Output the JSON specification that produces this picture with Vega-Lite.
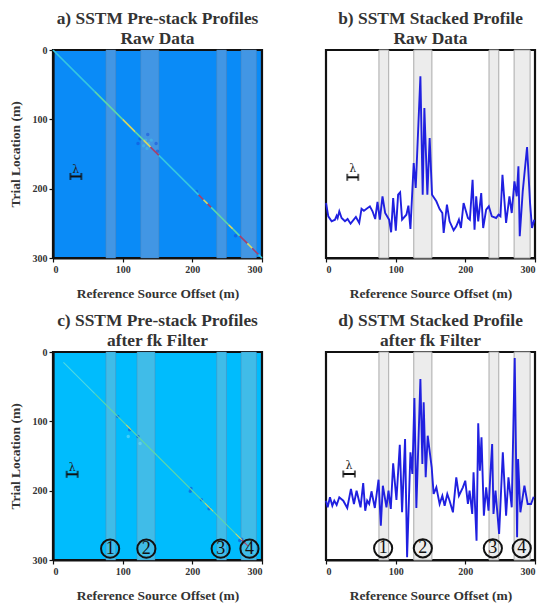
{
"$schema":"https://vega.github.io/schema/vega-lite/v6.json",
"background":"white",
"padding":{"left":6,"top":8,"right":0,"bottom":0},
"bounds":"flush",
"columns":2,
"spacing":{"column":64,"row":94},
"config":{
"font":"Liberation Serif",
"view":{"stroke":"#111","strokeWidth":2.2},
"title":{"font":"Liberation Serif","fontSize":17.4,"fontWeight":"bold","color":"#333","lineHeight":20,"offset":-2,"anchor":"middle"},
"axis":{"labelFont":"Liberation Serif","labelFontSize":10,"labelFontWeight":"bold","labelColor":"#333","titleFont":"Liberation Serif","titleFontSize":13.5,"titleFontWeight":"bold","titleColor":"#333","grid":false,"tickColor":"#111","tickSize":4,"tickWidth":1.2,"domain":true,"domainColor":"#111","domainWidth":2.2,"zindex":1,"labelPadding":2}
},
"datasets":{
"bandsA":[{"from":76,"to":90},{"from":126,"to":152},{"from":235,"to":249},{"from":270,"to":292}],
"bandsC":[{"from":76,"to":90},{"from":120.6,"to":146.4},{"from":235,"to":249},{"from":270,"to":292}],
"bandsB":[{"from":76,"to":90},{"from":126,"to":152},{"from":234,"to":248},{"from":270,"to":293}],
"diagA":[
{"s":0,"e":60,"c":"low"},{"s":60,"e":100,"c":"mid"},{"s":100,"e":118,"c":"hi"},{"s":118,"e":130,"c":"mid"},{"s":130,"e":140,"c":"hi"},{"s":140,"e":152,"c":"peak"},{"s":152,"e":209,"c":"low"},{"s":209,"e":216,"c":"peak"},{"s":216,"e":222,"c":"hi"},{"s":222,"e":227,"c":"peak"},{"s":227,"e":252,"c":"mid"},{"s":252,"e":258,"c":"hi"},{"s":258,"e":268,"c":"mid"},{"s":268,"e":279,"c":"peak"},{"s":279,"e":286,"c":"hi"},{"s":286,"e":295,"c":"peak"},{"s":295,"e":300,"c":"low"}],
"haloA":[{"x":133,"y":130,"c":"halo"},{"x":137,"y":135,"c":"halo"},{"x":130,"y":138,"c":"halo"},{"x":141,"y":130,"c":"halo"},{"x":135,"y":142,"c":"halo"},{"x":122,"y":135,"c":"deep"},{"x":125,"y":128,"c":"deep"},{"x":136,"y":122,"c":"deep"},{"x":148,"y":135,"c":"deep"},{"x":150,"y":146,"c":"deep"},{"x":206,"y":204,"c":"deep"},{"x":262,"y":268,"c":"deep"}],
"diagC":[
{"s":15,"e":60,"c":"faint"},{"s":60,"e":105,"c":"mid"},{"s":105,"e":112,"c":"hi"},{"s":112,"e":150,"c":"mid"},{"s":150,"e":218,"c":"mid"},{"s":218,"e":230,"c":"hi"},{"s":230,"e":262,"c":"mid"},{"s":262,"e":271,"c":"hi"},{"s":271,"e":280,"c":"peak"},{"s":280,"e":290,"c":"faint"}],
"haloC":[{"x":93,"y":93,"c":"deep"},{"x":110,"y":112,"c":"deep"},{"x":122,"y":122,"c":"deep"},{"x":198,"y":197,"c":"deep"},{"x":197,"y":201,"c":"deep"},{"x":224,"y":226,"c":"deep"},{"x":213,"y":213,"c":"deep"},{"x":268,"y":272,"c":"deep"},{"x":271,"y":270,"c":"deep"},{"x":274,"y":274,"c":"peak"},{"x":108,"y":122,"c":"pale"},{"x":125,"y":132,"c":"pale"}],
"stackB":[{"x":0,"a":55},{"x":3.3,"a":41.7},{"x":8.1,"a":36.7},{"x":12.9,"a":38.3},{"x":15.3,"a":42.3},{"x":16.7,"a":40},{"x":19.1,"a":46.7},{"x":22.4,"a":40},{"x":27.2,"a":36.7},{"x":31,"a":39},{"x":35.3,"a":34.3},{"x":42.9,"a":41},{"x":47.7,"a":35},{"x":51,"a":49.3},{"x":54.4,"a":47.3},{"x":63,"a":51.7},{"x":66.8,"a":46.7},{"x":70.6,"a":39},{"x":73.9,"a":56},{"x":77.3,"a":38.3},{"x":81.1,"a":61.7},{"x":84.9,"a":45},{"x":90.6,"a":38.3},{"x":93.5,"a":25.7},{"x":96.4,"a":60},{"x":100.2,"a":27.3},{"x":103.5,"a":63.3},{"x":106.4,"a":65.7},{"x":109.2,"a":38.3},{"x":115.4,"a":43.3},{"x":118.3,"a":52.3},{"x":121.2,"a":29},{"x":125.9,"a":95},{"x":128.8,"a":70},{"x":135.5,"a":181.7},{"x":138.8,"a":63.3},{"x":141.2,"a":150},{"x":145.5,"a":63.3},{"x":148.8,"a":120},{"x":152.2,"a":63.3},{"x":158.4,"a":56.7},{"x":163.1,"a":49},{"x":167,"a":45},{"x":168.9,"a":25},{"x":173.6,"a":53.3},{"x":177.4,"a":36.7},{"x":183.2,"a":27.7},{"x":187,"a":31.7},{"x":190.8,"a":38.3},{"x":193.7,"a":30},{"x":197.5,"a":55},{"x":203.7,"a":40},{"x":206.5,"a":38.3},{"x":210.4,"a":78.3},{"x":213.2,"a":28.3},{"x":215.6,"a":61.7},{"x":218.5,"a":36.7},{"x":222.8,"a":65},{"x":225.6,"a":30},{"x":229.9,"a":48.3},{"x":233.7,"a":51.7},{"x":238,"a":41.7},{"x":244.2,"a":40},{"x":247.6,"a":43.3},{"x":250.4,"a":41.7},{"x":253.3,"a":83.3},{"x":258.5,"a":35},{"x":263.3,"a":61.7},{"x":266.6,"a":45},{"x":270.5,"a":76.7},{"x":273.8,"a":61.7},{"x":276.2,"a":91.7},{"x":278.1,"a":21.7},{"x":282.4,"a":66.7},{"x":288.6,"a":111},{"x":292.9,"a":55},{"x":295.7,"a":30},{"x":299,"a":38.3}],
"stackD":[{"x":0,"a":59.3},{"x":2.4,"a":52.7},{"x":5.7,"a":62.7},{"x":9.1,"a":54.3},{"x":11.9,"a":59.3},{"x":15.3,"a":55},{"x":19.1,"a":62.7},{"x":24.8,"a":59.3},{"x":30.5,"a":52},{"x":35.8,"a":71},{"x":40.1,"a":56},{"x":43.9,"a":69.3},{"x":49.6,"a":52.7},{"x":53.4,"a":77},{"x":56.3,"a":49.3},{"x":59.1,"a":59.3},{"x":62,"a":56},{"x":65.3,"a":68.7},{"x":70.1,"a":52},{"x":75.4,"a":80.3},{"x":78.7,"a":34.3},{"x":81.6,"a":74.3},{"x":86.8,"a":52.7},{"x":89.7,"a":69.3},{"x":93,"a":51},{"x":96.4,"a":96.7},{"x":101.1,"a":60},{"x":105.9,"a":115.3},{"x":109.2,"a":47.7},{"x":113.5,"a":121},{"x":116.4,"a":2.7},{"x":121.2,"a":107.7},{"x":124,"a":86},{"x":126.9,"a":162},{"x":129.7,"a":52},{"x":135.5,"a":181},{"x":138.3,"a":96},{"x":140.2,"a":157.7},{"x":143.1,"a":82.7},{"x":146,"a":124.3},{"x":151.7,"a":92.7},{"x":154.5,"a":66},{"x":158.4,"a":72.7},{"x":163.1,"a":56},{"x":167,"a":64.3},{"x":170.3,"a":54.3},{"x":174.1,"a":66},{"x":177.4,"a":59.3},{"x":182.2,"a":47.7},{"x":187,"a":82.7},{"x":190.8,"a":64.3},{"x":196.5,"a":72.7},{"x":199.9,"a":79.3},{"x":203.7,"a":56},{"x":206.1,"a":69.3},{"x":209.9,"a":46},{"x":211.8,"a":87.7},{"x":216.1,"a":19.3},{"x":218.5,"a":136.7},{"x":220.9,"a":89.3},{"x":223.2,"a":122.7},{"x":226.6,"a":44.3},{"x":229.9,"a":72.7},{"x":233.3,"a":49.3},{"x":235.7,"a":82.7},{"x":238.5,"a":116},{"x":240.4,"a":46},{"x":243.3,"a":69.3},{"x":248.5,"a":26},{"x":253.8,"a":107.7},{"x":258.5,"a":44.3},{"x":261.9,"a":82.7},{"x":266.6,"a":52.7},{"x":270.9,"a":202},{"x":274.3,"a":22.7},{"x":275.7,"a":101},{"x":279,"a":47.7},{"x":284.8,"a":74.3},{"x":289.5,"a":56},{"x":294.3,"a":56},{"x":298.1,"a":63.3}]
},
"concat":[
{"width":209,"height":208,"view":{"fill":"#0a8bf7"},
"title":{"text":["a) SSTM Pre-stack Profiles","Raw Data"]},
"layer":[
{"data":{"name":"bandsA"},"mark":{"type":"rect","fill":"#4296e4","stroke":"#5a7fa8","strokeOpacity":0.4,"strokeWidth":1},"encoding":{"x":{"field":"from","type":"quantitative","scale":{"domain":[0,300],"nice":false,"padding":0},"axis":{"title":"Reference Source Offset (m)","titlePadding":12,"values":[0,100,200,300]}},"x2":{"field":"to"}}},
{"data":{"name":"haloA"},"mark":{"type":"point","shape":"circle","filled":true,"size":12,"opacity":0.5},"encoding":{"x":{"field":"x","type":"quantitative"},"y":{"field":"y","type":"quantitative","scale":{"domain":[300,0],"nice":false,"padding":0},"axis":{"title":"Trial Location (m)","titlePadding":10,"values":[0,100,200,300]}},"color":{"field":"c","type":"nominal","scale":{"domain":["faint","low","mid","hi","peak","halo","deep","pale"],"range":["#4fd8e0","#35c6e0","#5fd6a8","#d8d860","#a8406a","#45c4e8","#1448d8","#6fdcf8"]},"legend":null}}},
{"data":{"name":"diagA"},"mark":{"type":"rule","strokeWidth":1.6},"encoding":{"x":{"field":"s","type":"quantitative"},"x2":{"field":"e"},"y":{"field":"s","type":"quantitative"},"y2":{"field":"e"},"color":{"field":"c","type":"nominal","legend":null}}},
{"data":{"values":[{"from":25,"to":40.7,"y":182.4}]},"mark":{"type":"rule","color":"#111","strokeWidth":2},"encoding":{"x":{"field":"from","type":"quantitative"},"x2":{"field":"to"},"y":{"field":"y","type":"quantitative"}}},
{"data":{"values":[{"x":25,"y":182.4},{"x":40.7,"y":182.4}]},"mark":{"type":"tick","orient":"vertical","color":"#111","size":7,"thickness":2},"encoding":{"x":{"field":"x","type":"quantitative"},"y":{"field":"y","type":"quantitative"}}},
{"data":{"values":[{"x":32.8,"y":173.5,"lab":"λ"}]},"mark":{"type":"text","fontSize":11,"font":"DejaVu Serif","color":"#222"},"encoding":{"x":{"field":"x","type":"quantitative"},"y":{"field":"y","type":"quantitative"},"text":{"field":"lab"}}}
]},
{"width":209,"height":208,
"title":{"text":["b) SSTM Stacked Profile","Raw Data"],"offset":2},
"layer":[
{"data":{"name":"bandsB"},"mark":{"type":"rect","fill":"#ececec","stroke":"#aaaaaa","strokeWidth":1},"encoding":{"x":{"field":"from","type":"quantitative","scale":{"domain":[0,300],"nice":false,"padding":0},"axis":{"title":"Reference Source Offset (m)","titlePadding":12,"values":[0,100,200,300]}},"x2":{"field":"to"}}},
{"data":{"name":"stackB"},"mark":{"type":"line","color":"#2020e0","strokeWidth":1.9},"encoding":{"x":{"field":"x","type":"quantitative"},"y":{"field":"a","type":"quantitative","scale":{"domain":[0,208],"nice":false,"padding":0},"axis":null}}},
{"data":{"values":[{"from":30.5,"to":46.3,"y":80.7}]},"mark":{"type":"rule","color":"#111","strokeWidth":2},"encoding":{"x":{"field":"from","type":"quantitative"},"x2":{"field":"to"},"y":{"field":"y","type":"quantitative"}}},
{"data":{"values":[{"x":30.5,"y":80.7},{"x":46.3,"y":80.7}]},"mark":{"type":"tick","orient":"vertical","color":"#111","size":7,"thickness":2},"encoding":{"x":{"field":"x","type":"quantitative"},"y":{"field":"y","type":"quantitative"}}},
{"data":{"values":[{"x":38.4,"y":89,"lab":"λ"}]},"mark":{"type":"text","fontSize":11,"font":"DejaVu Serif","color":"#222"},"encoding":{"x":{"field":"x","type":"quantitative"},"y":{"field":"y","type":"quantitative"},"text":{"field":"lab"}}}
]},
{"width":209,"height":208,"view":{"fill":"#00bcfd"},
"title":{"text":["c) SSTM Pre-stack Profiles","after fk Filter"]},
"layer":[
{"data":{"name":"bandsC"},"mark":{"type":"rect","fill":"#40bce8","stroke":"#5a7fa8","strokeOpacity":0.4,"strokeWidth":1},"encoding":{"x":{"field":"from","type":"quantitative","scale":{"domain":[0,300],"nice":false,"padding":0},"axis":{"title":"Reference Source Offset (m)","titlePadding":12,"values":[0,100,200,300]}},"x2":{"field":"to"}}},
{"data":{"name":"haloC"},"mark":{"type":"point","shape":"circle","filled":true,"size":12,"opacity":0.6},"encoding":{"x":{"field":"x","type":"quantitative"},"y":{"field":"y","type":"quantitative","scale":{"domain":[300,0],"nice":false,"padding":0},"axis":{"title":"Trial Location (m)","titlePadding":10,"values":[0,100,200,300]}},"color":{"field":"c","type":"nominal","legend":null}}},
{"data":{"name":"diagC"},"mark":{"type":"rule","strokeWidth":1.1},"encoding":{"x":{"field":"s","type":"quantitative"},"x2":{"field":"e"},"y":{"field":"s","type":"quantitative"},"y2":{"field":"e"},"color":{"field":"c","type":"nominal","legend":null}}},
{"data":{"values":[{"from":19.6,"to":35.4,"y":176.4}]},"mark":{"type":"rule","color":"#111","strokeWidth":2},"encoding":{"x":{"field":"from","type":"quantitative"},"x2":{"field":"to"},"y":{"field":"y","type":"quantitative"}}},
{"data":{"values":[{"x":19.6,"y":176.4},{"x":35.4,"y":176.4}]},"mark":{"type":"tick","orient":"vertical","color":"#111","size":7,"thickness":2},"encoding":{"x":{"field":"x","type":"quantitative"},"y":{"field":"y","type":"quantitative"}}},
{"data":{"values":[{"x":27.5,"y":167.5,"lab":"λ"}]},"mark":{"type":"text","fontSize":11,"font":"DejaVu Serif","color":"#222"},"encoding":{"x":{"field":"x","type":"quantitative"},"y":{"field":"y","type":"quantitative"},"text":{"field":"lab"}}},
{"data":{"values":[{"x":82,"y":283.7,"n":"1"},{"x":134,"y":283.7,"n":"2"},{"x":240.7,"y":283.7,"n":"3"},{"x":282,"y":283.7,"n":"4"}]},"layer":[
{"mark":{"type":"point","shape":"circle","filled":false,"size":330,"stroke":"#111","strokeWidth":2,"opacity":1},"encoding":{"x":{"field":"x","type":"quantitative"},"y":{"field":"y","type":"quantitative"}}},
{"mark":{"type":"text","fontSize":18,"color":"#111","font":"Liberation Serif"},"encoding":{"x":{"field":"x","type":"quantitative"},"y":{"field":"y","type":"quantitative"},"text":{"field":"n"}}}]}
]},
{"width":209,"height":208,
"title":{"text":["d) SSTM Stacked Profile","after fk Filter"],"offset":2},
"layer":[
{"data":{"name":"bandsB"},"mark":{"type":"rect","fill":"#ececec","stroke":"#aaaaaa","strokeWidth":1},"encoding":{"x":{"field":"from","type":"quantitative","scale":{"domain":[0,300],"nice":false,"padding":0},"axis":{"title":"Reference Source Offset (m)","titlePadding":12,"values":[0,100,200,300]}},"x2":{"field":"to"}}},
{"data":{"name":"stackD"},"mark":{"type":"line","color":"#2020e0","strokeWidth":1.9},"encoding":{"x":{"field":"x","type":"quantitative"},"y":{"field":"a","type":"quantitative","scale":{"domain":[0,208],"nice":false,"padding":0},"axis":null}}},
{"data":{"values":[{"from":24.8,"to":41.5,"y":86}]},"mark":{"type":"rule","color":"#111","strokeWidth":2},"encoding":{"x":{"field":"from","type":"quantitative"},"x2":{"field":"to"},"y":{"field":"y","type":"quantitative"}}},
{"data":{"values":[{"x":24.8,"y":86},{"x":41.5,"y":86}]},"mark":{"type":"tick","orient":"vertical","color":"#111","size":7,"thickness":2},"encoding":{"x":{"field":"x","type":"quantitative"},"y":{"field":"y","type":"quantitative"}}},
{"data":{"values":[{"x":33,"y":94.5,"lab":"λ"}]},"mark":{"type":"text","fontSize":11,"font":"DejaVu Serif","color":"#222"},"encoding":{"x":{"field":"x","type":"quantitative"},"y":{"field":"y","type":"quantitative"},"text":{"field":"lab"}}},
{"data":{"values":[{"x":82,"y":11.7,"n":"1"},{"x":139,"y":11.7,"n":"2"},{"x":239.5,"y":11.7,"n":"3"},{"x":281,"y":11.7,"n":"4"}]},"layer":[
{"mark":{"type":"point","shape":"circle","filled":false,"size":330,"stroke":"#111","strokeWidth":2,"opacity":1},"encoding":{"x":{"field":"x","type":"quantitative"},"y":{"field":"y","type":"quantitative"}}},
{"mark":{"type":"text","fontSize":18,"color":"#111","font":"Liberation Serif"},"encoding":{"x":{"field":"x","type":"quantitative"},"y":{"field":"y","type":"quantitative"},"text":{"field":"n"}}}]}
]}
]
}
